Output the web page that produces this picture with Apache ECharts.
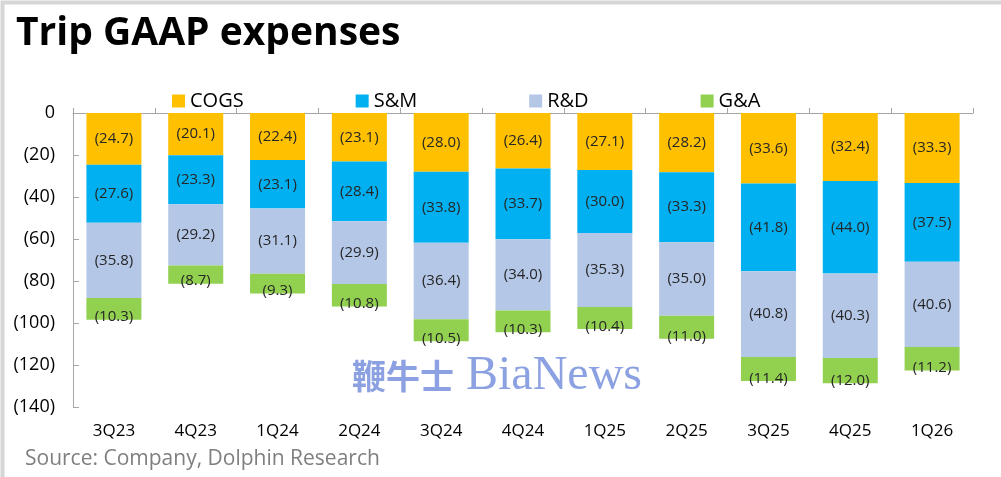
<!DOCTYPE html>
<html>
<head>
<meta charset="utf-8">
<script src="https://cdn.jsdelivr.net/npm/echarts@6/dist/echarts.min.js"></script>
<style>
  html, body { margin: 0; padding: 0; background: #fff; }
  #main { width: 1001px; height: 477px; }
</style>
</head>
<body>
<div id="main"></div>
<script>
// data (US$ bn shown as negatives)
var quarters = ['3Q23', '4Q23', '1Q24', '2Q24', '3Q24', '4Q24', '1Q25', '2Q25', '3Q25', '4Q25', '1Q26'];
var cogs = [24.7, 20.1, 22.4, 23.1, 28.0, 26.4, 27.1, 28.2, 33.6, 32.4, 33.3];
var sm   = [27.6, 23.3, 23.1, 28.4, 33.8, 33.7, 30.0, 33.3, 41.8, 44.0, 37.5];
var rd   = [35.8, 29.2, 31.1, 29.9, 36.4, 34.0, 35.3, 35.0, 40.8, 40.3, 40.6];
var ga   = [10.3, 8.7, 9.3, 10.8, 10.5, 10.3, 10.4, 11.0, 11.4, 12.0, 11.2];
var seriesNames = ['COGS', 'S&M', 'R&D', 'G&A'];
var colors = ['#FFC000', '#00B0F0', '#B4C7E7', '#92D050'];

var font = '"Open Sans", "Noto Sans", sans-serif';
var myChart = echarts.init(document.getElementById('main'));

function paren(p) {
  return '(' + Math.abs(p.value).toFixed(1) + ')';
}

function makeSeries(name, vals, idx) {
  var last = idx === 3;
  return {
    name: name,
    type: 'bar',
    stack: 'exp',
    barWidth: 55,
    xAxisIndex: 0,
    itemStyle: { color: colors[idx] },
    label: {
      show: true,
      position: last ? 'insideBottom' : 'inside',
      distance: 5,
      offset: last ? [0, 10] : [0, 0],
      formatter: paren,
      color: '#262626',
      fontFamily: font,
      fontSize: 15
    },
    data: vals.map(function (v) { return -v; })
  };
}

var option = {
  animation: false,
  backgroundColor: '#fff',
  color: colors,
  textStyle: { fontFamily: font },
  graphic: [
    { type: 'rect', left: 0, top: 0, shape: { width: 1001, height: 477 },
      style: { fill: 'none', stroke: '#d6d6d6', lineWidth: 4 }, silent: true },
    { type: 'text', left: 16, top: 14,
      style: { text: 'Trip GAAP expenses', font: 'bold 39px ' + font, fill: '#000' } },
    { type: 'text', left: 25, top: 449,
      style: { text: 'Source: Company, Dolphin Research', font: '21px ' + font, fill: '#7f7f7f' } },
    { type: 'text', left: 352, top: 359, z: 100,
      style: { text: '鞭牛士', font: 'bold 34px "Noto Sans CJK SC"', fill: 'rgba(120,145,220,0.85)' } },
    { type: 'text', left: 466, top: 352, z: 100,
      style: { text: 'BiaNews', font: '48px "Liberation Serif", "DejaVu Serif", serif', fill: 'rgba(120,145,220,0.85)' } }
  ],
  legend: {
    data: seriesNames,
    left: 167,
    top: 86,
    itemWidth: 13,
    itemHeight: 13,
    itemGap: 112,
    icon: 'rect',
    textStyle: { fontFamily: font, fontSize: 20, color: '#000' }
  },
  grid: { left: 73, right: 28, top: 113, bottom: 70, containLabel: false },
  xAxis: [
    {
      type: 'category',
      data: quarters,
      position: 'bottom',
      axisLine: { show: false, onZero: false },
      axisTick: { show: false },
      axisLabel: { color: '#000', fontSize: 17, fontFamily: font, margin: 16 }
    },
    {
      type: 'category',
      data: quarters,
      position: 'top',
      axisLine: { show: true, onZero: false, lineStyle: { color: '#a6a6a6', width: 1 } },
      axisTick: { show: true, length: 5, lineStyle: { color: '#a6a6a6' } },
      axisLabel: { show: false }
    }
  ],
  yAxis: {
    type: 'value',
    min: -140,
    max: 0,
    interval: 20,
    axisLine: { show: true, lineStyle: { color: '#a6a6a6', width: 1 } },
    axisTick: { show: true, inside: true, length: 6, lineStyle: { color: '#a6a6a6' } },
    splitLine: { show: false },
    axisLabel: {
      color: '#000',
      fontSize: 18,
      fontFamily: font,
      margin: 18,
      formatter: function (v) { return v === 0 ? '0' : '(' + Math.abs(v) + ')'; }
    }
  },
  series: [
    makeSeries(seriesNames[0], cogs, 0),
    makeSeries(seriesNames[1], sm, 1),
    makeSeries(seriesNames[2], rd, 2),
    makeSeries(seriesNames[3], ga, 3)
  ]
};

myChart.setOption(option);
</script>
</body>
</html>
